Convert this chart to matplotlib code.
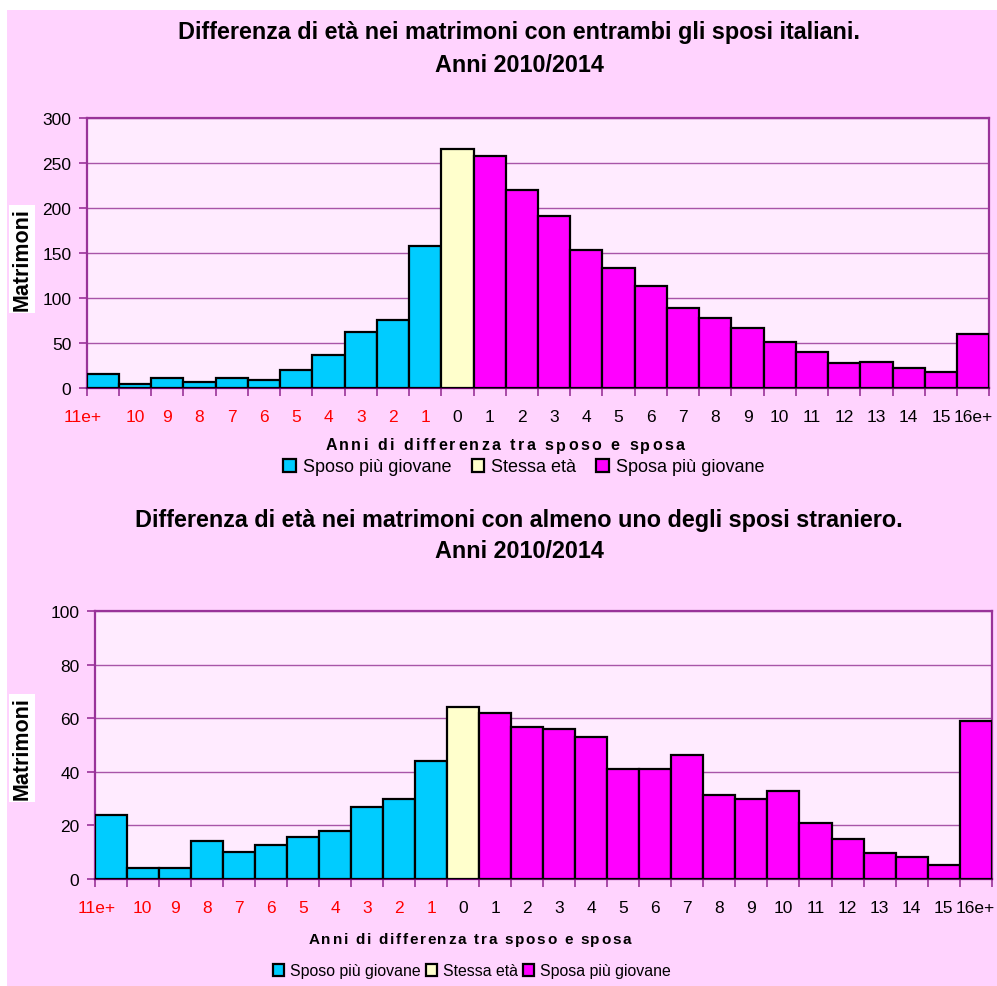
import matplotlib
matplotlib.use("Agg")
import matplotlib.pyplot as plt
from matplotlib.patches import Rectangle
from matplotlib.font_manager import FontProperties
import matplotlib.transforms as mtransforms

plt.rcParams['font.family'] = ['Liberation Sans', 'DejaVu Sans']

categories = ["11e+", "10", "9", "8", "7", "6", "5", "4", "3", "2", "1", "0",
              "1", "2", "3", "4", "5", "6", "7", "8", "9", "10", "11", "12",
              "13", "14", "15", "16e+"]
groups = ["groom"] * 11 + ["same"] + ["bride"] * 16

italiani = [15, 4, 11, 6, 11, 9, 20, 36, 62, 75, 158, 266,
            258, 220, 191, 153, 133, 113, 89, 78, 66, 51, 40, 27, 29, 22, 18, 60]
stranieri = [24, 4, 4, 14, 10, 12.5, 15.6, 17.8, 26.8, 29.8, 44, 64.3,
             62, 56.8, 56, 53.1, 41, 41, 46.3, 31.2, 29.8, 32.8, 20.8, 15, 9.6, 8.2, 5.2, 59]

titles = ["Differenza di età nei matrimoni con entrambi gli sposi italiani.\nAnni 2010/2014",
          "Differenza di età nei matrimoni con almeno uno degli sposi straniero.\nAnni 2010/2014"]
legend_labels = ["Sposo più giovane", "Stessa età", "Sposa più giovane"]
xlabel = "Anni di differenza tra sposo e sposa"
ylabel = "Matrimoni"

W, H = 997, 987
fig = plt.figure(figsize=(W / 100, H / 100), dpi=100)
fig.patch.set_facecolor("white")
BG = "#FFD3FE"
PLOT_BG = "#FFEBFF"
AXC = "#993399"
GRID = "#A855A8"
colors = {"groom": "#00CCFF", "same": "#FFFFCC", "bride": "#FF00FF"}

fig.patches.append(Rectangle((7 / W, 0), 1 - 7 / W, (H - 11) / H, transform=fig.transFigure,
                             facecolor=BG, edgecolor="none", zorder=-10))


def px(x, y):
    return x / W, 1 - y / H


renderer = fig.canvas.get_renderer()


def spaced_text(xc, y, s, size, tracking):
    prop = FontProperties(family='Liberation Sans', weight='bold', size=size)
    widths = []
    for ch in s:
        if ch == " ":
            w, _, _ = renderer.get_text_width_height_descent("a a", prop, ismath=False)
            w2, _, _ = renderer.get_text_width_height_descent("aa", prop, ismath=False)
            widths.append(w - w2)
        else:
            w, _, _ = renderer.get_text_width_height_descent(ch, prop, ismath=False)
            widths.append(w)
    total = sum(widths) + tracking * (len(s) - 1)
    x = xc - total / 2
    for ch, w in zip(s, widths):
        if ch != " ":
            fx, fy = px(x, y)
            fig.text(fx, fy, ch, fontproperties=prop, ha="left", va="center", color="black")
        x += w + tracking


configs = [
    dict(data=italiani, ax=(86.7, 119, 989.3, 388.7), ylim=300, ystep=50,
         t1=33, t2=65, xl_y=446, xl_x=505, xl_track=2.4, xl_size=11.5,
         leg_y=468, leg_x=524, leg_size=13, leg_gap=1.1, first_off=-20, yl_y=260),
    dict(data=stranieri, ax=(94.7, 612.3, 991.7, 879.7), ylim=100, ystep=20,
         t1=521, t2=552, xl_y=940, xl_x=470, xl_track=1.7, xl_size=11,
         leg_y=972, leg_x=472, leg_size=11.4, leg_gap=0.3, first_off=-14, yl_y=749),
]

for cfg, title in zip(configs, titles):
    x0, y0, x1, y1 = cfg["ax"]
    ax = fig.add_axes([x0 / W, 1 - y1 / H, (x1 - x0) / W, (y1 - y0) / H])
    ax.set_facecolor(PLOT_BG)
    xs = list(range(len(categories)))
    bars = {}
    for g in ["groom", "same", "bride"]:
        gx = [x for x, gg in zip(xs, groups) if gg == g]
        gv = [v for v, gg in zip(cfg["data"], groups) if gg == g]
        bars[g] = ax.bar(gx, gv, width=1.0, color=colors[g], edgecolor="black",
                         linewidth=1.6, zorder=3)
    ax.set_xlim(-0.5, len(categories) - 0.5)
    ax.set_ylim(0, cfg["ylim"])
    ax.set_yticks(range(0, cfg["ylim"] + 1, cfg["ystep"]))
    ax.yaxis.grid(True, color=GRID, linewidth=1.0, zorder=0)
    ax.set_axisbelow(True)
    for sp in ax.spines.values():
        sp.set_color(AXC)
        sp.set_linewidth(1.6)
    ax.spines["bottom"].set_color("#660066")
    ax.tick_params(axis="y", length=6, width=1.2, color=AXC, labelsize=12.5, pad=5)
    ax.set_xticks([x - 0.5 for x in xs] + [len(xs) - 0.5])
    ax.set_xticklabels([])
    ax.set_xticks(xs, minor=True)
    ax.set_xticklabels(categories, minor=True)
    ax.tick_params(axis="x", which="major", length=6, width=1.2, color=AXC)
    ax.tick_params(axis="x", which="minor", length=0, labelsize=12.5, pad=15)
    for i, lab in enumerate(ax.get_xticklabels(minor=True)):
        lab.set_color("#FF0000" if groups[i] == "groom" else "black")
    first = ax.get_xticklabels(minor=True)[0]
    first.set_transform(first.get_transform() +
                        mtransforms.ScaledTranslation(cfg["first_off"] / 100, 0, fig.dpi_scale_trans))

    t1, t2 = title.split("\n")
    fig.text(*px(519, cfg["t1"]), t1, ha="center", va="center", fontsize=16.8, fontweight="bold")
    fig.text(*px(519, cfg["t2"]), t2, ha="center", va="center", fontsize=16.8, fontweight="bold")

    spaced_text(cfg["xl_x"], cfg["xl_y"], xlabel, cfg["xl_size"], cfg["xl_track"])

    fig.text(*px(22, cfg["yl_y"]), ylabel, rotation=90, ha="center", va="center",
             fontsize=15.5, fontweight="bold",
             bbox=dict(facecolor="white", edgecolor="none", pad=1.5))

    handles = [bars["groom"], bars["same"], bars["bride"]]
    fig.legend(handles, legend_labels, loc="center", bbox_to_anchor=px(cfg["leg_x"], cfg["leg_y"]),
               ncol=3, frameon=False, fontsize=cfg["leg_size"], handlelength=0.7,
               handleheight=0.7, handletextpad=0.4, columnspacing=cfg["leg_gap"],
               borderpad=0, borderaxespad=0)

fig.savefig("out.png", dpi=100, facecolor=fig.get_facecolor())
